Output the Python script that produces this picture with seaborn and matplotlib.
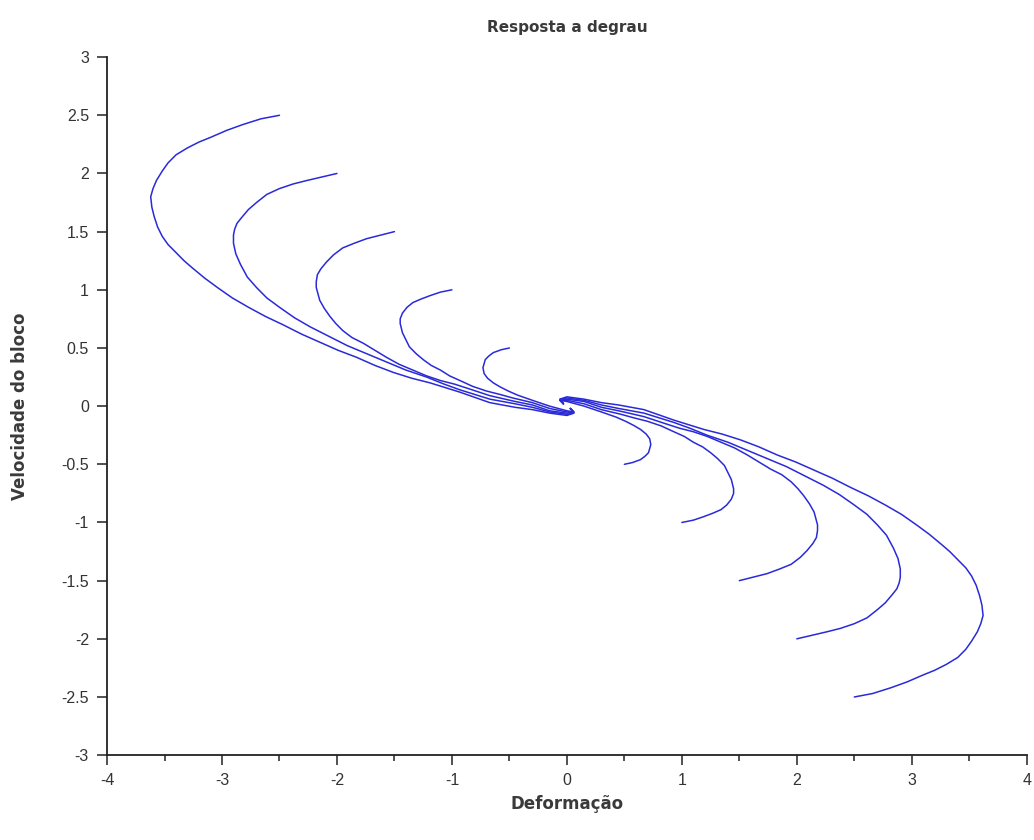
import numpy as np
import pandas as pd
import matplotlib
matplotlib.use('Agg')
import matplotlib.pyplot as plt
import seaborn as sns

# trajectories: deformation (x) vs block velocity (v)
left_x1 = [-2.50, -2.66, -2.82, -2.96, -3.10, -3.20, -3.30, -3.40, -3.47, -3.52, -3.57, -3.60, -3.62,
           -3.61, -3.59, -3.56, -3.52, -3.47, -3.40, -3.33, -3.26, -3.15, -3.04, -2.91, -2.77,
           -2.62, -2.47, -2.31, -2.15, -1.99, -1.83, -1.67, -1.51, -1.35, -1.19, -1.06, -0.93,
           -0.80, -0.67, -0.45, -0.30, -0.15, 0.00, 0.06, 0.03]
left_v1 = [2.50, 2.47, 2.42, 2.37, 2.31, 2.27, 2.22, 2.16, 2.09, 2.02, 1.94, 1.87, 1.80,
           1.71, 1.63, 1.54, 1.46, 1.39, 1.32, 1.25, 1.19, 1.10, 1.02, 0.93, 0.85,
           0.77, 0.70, 0.62, 0.55, 0.48, 0.42, 0.35, 0.29, 0.24, 0.20, 0.16, 0.12,
           0.075, 0.03, -0.01, -0.03, -0.06, -0.08, -0.06, -0.02]
left_x2 = [-2.00, -2.13, -2.26, -2.38, -2.50, -2.61, -2.70, -2.77, -2.83, -2.87, -2.89, -2.90, -2.90,
           -2.88, -2.84, -2.78, -2.70, -2.61, -2.50, -2.37, -2.23, -2.07, -1.91, -1.74, -1.57,
           -1.40, -1.22, -1.07, -0.93, -0.80, -0.67, -0.45, -0.30, -0.15, 0.00, 0.06, 0.03]
left_v2 = [2.00, 1.97, 1.94, 1.91, 1.87, 1.82, 1.75, 1.69, 1.62, 1.57, 1.52, 1.47, 1.40,
           1.31, 1.22, 1.11, 1.02, 0.93, 0.85, 0.76, 0.68, 0.60, 0.52, 0.45, 0.38,
           0.31, 0.25, 0.19, 0.14, 0.10, 0.06, 0.02, -0.01, -0.05, -0.07, -0.06, -0.02]
left_x3 = [-1.50, -1.62, -1.74, -1.85, -1.95, -2.03, -2.09, -2.14, -2.17, -2.18, -2.18, -2.15, -2.11,
           -2.06, -2.01, -1.95, -1.87, -1.77, -1.67, -1.57, -1.46, -1.34, -1.22, -1.10, -0.98,
           -0.87, -0.67, -0.45, -0.30, -0.15, 0.00, 0.06, 0.03]
left_v3 = [1.50, 1.47, 1.44, 1.40, 1.36, 1.30, 1.24, 1.18, 1.13, 1.07, 1.02, 0.91, 0.84,
           0.77, 0.71, 0.65, 0.59, 0.54, 0.48, 0.42, 0.36, 0.31, 0.26, 0.22, 0.19,
           0.155, 0.09, 0.04, 0.01, -0.04, -0.06, -0.05, -0.02]
left_x4 = [-1.00, -1.10, -1.19, -1.27, -1.34, -1.39, -1.43, -1.45, -1.45, -1.43, -1.40, -1.37, -1.31,
           -1.25, -1.18, -1.10, -1.02, -0.93, -0.82, -0.70, -0.58, -0.47, -0.30, -0.15, 0.00,
           0.06, 0.03]
left_v4 = [1.00, 0.98, 0.95, 0.92, 0.89, 0.85, 0.80, 0.75, 0.71, 0.63, 0.57, 0.51, 0.45,
           0.40, 0.35, 0.31, 0.26, 0.22, 0.17, 0.13, 0.10, 0.07, 0.03, -0.02, -0.05,
           -0.05, -0.02]
left_x5 = [-0.50, -0.57, -0.64, -0.68, -0.71, -0.73, -0.72, -0.69, -0.64, -0.58, -0.51, -0.43, -0.30,
           -0.15, 0.00, 0.06, 0.03]
left_v5 = [0.50, 0.485, 0.46, 0.43, 0.40, 0.33, 0.28, 0.24, 0.20, 0.165, 0.13, 0.095, 0.05,
           0.00, -0.04, -0.05, -0.02]

right_x1 = [2.50, 2.66, 2.82, 2.96, 3.10, 3.20, 3.30, 3.40, 3.47, 3.52, 3.57, 3.60, 3.62,
            3.61, 3.59, 3.56, 3.52, 3.47, 3.40, 3.33, 3.26, 3.15, 3.04, 2.91, 2.77,
            2.62, 2.47, 2.31, 2.15, 1.99, 1.83, 1.67, 1.51, 1.35, 1.19, 1.06, 0.93,
            0.80, 0.67, 0.45, 0.30, 0.15, 0.00, -0.06, -0.03]
right_v1 = [-2.50, -2.47, -2.42, -2.37, -2.31, -2.27, -2.22, -2.16, -2.09, -2.02, -1.94, -1.87, -1.80,
            -1.71, -1.63, -1.54, -1.46, -1.39, -1.32, -1.25, -1.19, -1.10, -1.02, -0.93, -0.85,
            -0.77, -0.70, -0.62, -0.55, -0.48, -0.42, -0.35, -0.29, -0.24, -0.20, -0.16, -0.12,
            -0.075, -0.03, 0.01, 0.03, 0.06, 0.08, 0.06, 0.02]
right_x2 = [2.00, 2.13, 2.26, 2.38, 2.50, 2.61, 2.70, 2.77, 2.83, 2.87, 2.89, 2.90, 2.90,
            2.88, 2.84, 2.78, 2.70, 2.61, 2.50, 2.37, 2.23, 2.07, 1.91, 1.74, 1.57,
            1.40, 1.22, 1.07, 0.93, 0.80, 0.67, 0.45, 0.30, 0.15, 0.00, -0.06, -0.03]
right_v2 = [-2.00, -1.97, -1.94, -1.91, -1.87, -1.82, -1.75, -1.69, -1.62, -1.57, -1.52, -1.47, -1.40,
            -1.31, -1.22, -1.11, -1.02, -0.93, -0.85, -0.76, -0.68, -0.60, -0.52, -0.45, -0.38,
            -0.31, -0.25, -0.19, -0.14, -0.10, -0.06, -0.02, 0.01, 0.05, 0.07, 0.06, 0.02]
right_x3 = [1.50, 1.62, 1.74, 1.85, 1.95, 2.03, 2.09, 2.14, 2.17, 2.18, 2.18, 2.15, 2.11,
            2.06, 2.01, 1.95, 1.87, 1.77, 1.67, 1.57, 1.46, 1.34, 1.22, 1.10, 0.98,
            0.87, 0.67, 0.45, 0.30, 0.15, 0.00, -0.06, -0.03]
right_v3 = [-1.50, -1.47, -1.44, -1.40, -1.36, -1.30, -1.24, -1.18, -1.13, -1.07, -1.02, -0.91, -0.84,
            -0.77, -0.71, -0.65, -0.59, -0.54, -0.48, -0.42, -0.36, -0.31, -0.26, -0.22, -0.19,
            -0.155, -0.09, -0.04, -0.01, 0.04, 0.06, 0.05, 0.02]
right_x4 = [1.00, 1.10, 1.19, 1.27, 1.34, 1.39, 1.43, 1.45, 1.45, 1.43, 1.40, 1.37, 1.31,
            1.25, 1.18, 1.10, 1.02, 0.93, 0.82, 0.70, 0.58, 0.47, 0.30, 0.15, 0.00,
            -0.06, -0.03]
right_v4 = [-1.00, -0.98, -0.95, -0.92, -0.89, -0.85, -0.80, -0.75, -0.71, -0.63, -0.57, -0.51, -0.45,
            -0.40, -0.35, -0.31, -0.26, -0.22, -0.17, -0.13, -0.10, -0.07, -0.03, 0.02, 0.05,
            0.05, 0.02]
right_x5 = [0.50, 0.57, 0.64, 0.68, 0.71, 0.73, 0.72, 0.69, 0.64, 0.58, 0.51, 0.43, 0.30,
            0.15, 0.00, -0.06, -0.03]
right_v5 = [-0.50, -0.485, -0.46, -0.43, -0.40, -0.33, -0.28, -0.24, -0.20, -0.165, -0.13, -0.095, -0.05,
            0.00, 0.04, 0.05, 0.02]

x_ticks = [-4, -3, -2, -1, 0, 1, 2, 3, 4]
y_ticks = [-3, -2.5, -2, -1.5, -1, -0.5, 0, 0.5, 1, 1.5, 2, 2.5, 3]

curves = [(left_x1, left_v1), (left_x2, left_v2), (left_x3, left_v3), (left_x4, left_v4),
          (left_x5, left_v5), (right_x1, right_v1), (right_x2, right_v2), (right_x3, right_v3),
          (right_x4, right_v4), (right_x5, right_v5)]
frames = []
for index, (xs, vs) in enumerate(curves):
    frames.append(pd.DataFrame({'deformacao': xs, 'velocidade': vs, 'curva': index}))
data = pd.concat(frames, ignore_index=True)

sns.set_theme(style='ticks')
plt.rcParams['font.family'] = ['Liberation Sans', 'DejaVu Sans']
plt.rcParams['axes.unicode_minus'] = False

figure = plt.figure(figsize=(10.34, 8.4), dpi=100)
axes = figure.add_axes([0.1035, 0.101, 0.8895, 0.831])
sns.lineplot(data=data, x='deformacao', y='velocidade', units='curva', estimator=None,
             sort=False, color='#2a2ad8', linewidth=1.1, ax=axes)

axes.set_xlim(-4, 4)
axes.set_ylim(-3, 3)
axes.set_xticks(x_ticks)
axes.set_xticklabels([str(t) for t in x_ticks])
axes.set_yticks(y_ticks)
axes.set_yticklabels(['{:g}'.format(t) for t in y_ticks])
axes.set_xticks(np.arange(-3.5, 4, 1.0), minor=True)
axes.tick_params(axis='both', which='major', length=7, width=1.2, color='#333333',
                 labelsize=11.5, labelcolor='#333333', pad=6)
axes.tick_params(axis='x', which='minor', length=4, width=1.2, color='#333333')
for side in ['left', 'bottom']:
    axes.spines[side].set_color('#222222')
    axes.spines[side].set_linewidth(1.3)
sns.despine(ax=axes)

label_font = ['DejaVu Sans']
axes.set_title('Resposta a degrau', fontsize=11, fontweight='bold', color='#3a3a3a',
               family=label_font, pad=18)
axes.set_xlabel('Deformação', fontsize=12, fontweight='bold', color='#3a3a3a',
                family=label_font, labelpad=5)
axes.set_ylabel('Velocidade do bloco', fontsize=12, fontweight='bold', color='#3a3a3a',
                family=label_font, labelpad=23)

figure.savefig('out.png', dpi=100)
